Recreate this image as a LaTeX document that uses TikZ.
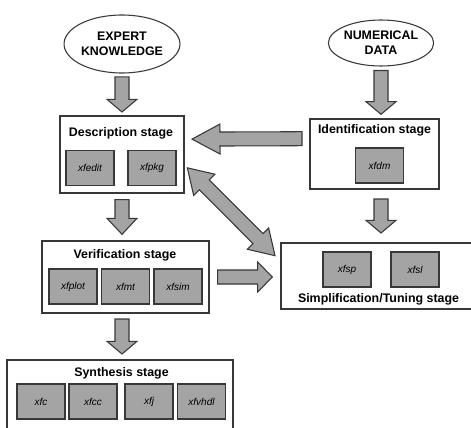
\documentclass[tikz,border=0pt]{standalone}
\usepackage{fontspec}
\setmainfont{Liberation Sans}
\usetikzlibrary{shapes.geometric,calc,positioning}

\definecolor{toolgray}{HTML}{A4A4A4}
\definecolor{edgegray}{HTML}{383838}

\tikzset{
  source/.style={ellipse,draw=edgegray,line width=0.8pt,fill=white,align=center,inner sep=0pt,
    font=\bfseries\fontsize{9.3}{11.2}\selectfont},
  stagebox/.style={draw=edgegray,line width=1pt,fill=white,inner sep=0pt},
  stagetitle/.style={inner sep=0pt,font=\bfseries\fontsize{9.3}{11}\selectfont},
  toolbox/.style={draw=edgegray,line width=1.1pt,fill=toolgray,minimum width=36pt,minimum height=26.5pt,
    inner sep=0pt,font=\itshape\fontsize{7.5}{9}\selectfont},
  bigarrow/.style={draw=edgegray,line width=0.8pt,fill=toolgray,line join=miter}
}

% 太い矢印: [先端長]{始点}{終点}{すき間}
\newcommand{\blockarrow}[4][9.5pt]{%
  \path ($(#2)!#4!(#3)$) coordinate (ba-s) ($(#3)!#4!(#2)$) coordinate (ba-e);
  \path ($(ba-e)!#1!(ba-s)$) coordinate (ba-h);
  \draw[bigarrow] ($(ba-s)!5.25pt!90:(ba-e)$) -- ($(ba-h)!5.25pt!90:(ba-e)$)
    -- ($(ba-h)!11.25pt!90:(ba-e)$) -- (ba-e) -- ($(ba-h)!11.25pt!-90:(ba-e)$)
    -- ($(ba-h)!5.25pt!-90:(ba-e)$) -- ($(ba-s)!5.25pt!-90:(ba-e)$) -- cycle;
}
% 両方向の太い矢印
\newcommand{\blockdarrow}[4][18pt]{%
  \path ($(#2)!#4!(#3)$) coordinate (ba-s) ($(#3)!#4!(#2)$) coordinate (ba-e);
  \path ($(ba-e)!#1!(ba-s)$) coordinate (ba-h) ($(ba-s)!#1!(ba-e)$) coordinate (ba-t);
  \draw[bigarrow] (ba-s) -- ($(ba-t)!11.25pt!90:(ba-e)$) -- ($(ba-t)!5.25pt!90:(ba-e)$)
    -- ($(ba-h)!5.25pt!90:(ba-e)$) -- ($(ba-h)!11.25pt!90:(ba-e)$) -- (ba-e)
    -- ($(ba-h)!11.25pt!-90:(ba-e)$) -- ($(ba-h)!5.25pt!-90:(ba-e)$)
    -- ($(ba-t)!5.25pt!-90:(ba-e)$) -- ($(ba-t)!11.25pt!-90:(ba-e)$) -- cycle;
}

\begin{document}
\begin{tikzpicture}[x=0.75pt,y=-0.75pt]

% 背景
\fill[white] (0,0) rectangle (471,428);
\useasboundingbox (0,0) rectangle (471,428);
\clip (0,0) rectangle (471,428);

% 入力
\node[source,minimum width=81.75pt,minimum height=43.5pt] (expert) at (122,44) {EXPERT\\KNOWLEDGE};
\node[source,minimum width=72.75pt,minimum height=34.5pt] (numerical) at (381,43) {NUMERICAL\\DATA};

% ステージ
\node[stagebox,minimum width=93pt,minimum height=57.75pt] (desc) at (122,154.5) {};
\node[stagebox,minimum width=96.75pt,minimum height=52.5pt] (ident) at (374.5,154) {};
\node[stagebox,minimum width=125.25pt,minimum height=54pt] (verif) at (125.5,277) {};
\node[stagebox,minimum width=148.5pt,minimum height=49.5pt] (simp) at (380,276) {};
\node[stagebox,minimum width=169.5pt,minimum height=57pt] (synth) at (120,398) {};

\node[stagetitle] (desct) at (121,133) {Description stage};
\node[stagetitle] (identt) at (374.5,130) {Identification stage};
\node[stagetitle] (verift) at (125,255) {Verification stage};
\node[stagetitle] (simpt) at (378.5,299) {Simplification/Tuning stage};
\node[stagetitle] (syntht) at (121.5,373) {Synthesis stage};

% ツール
\node[toolbox] (xfedit) at (90,168) {xfedit};
\node[toolbox] (xfpkg) at (152,168) {xfpkg};
\node[toolbox] (xfdm) at (379.5,165.5) {xfdm};
\node[toolbox] (xfplot) at (73,286.5) {xfplot};
\node[toolbox] (xfmt) at (125.5,286.5) {xfmt};
\node[toolbox] (xfsim) at (178,286.5) {xfsim};
\node[toolbox] (xfsp) at (347,269.5) {xfsp};
\node[toolbox] (xfsl) at (415,269.5) {xfsl};
\node[toolbox] (xfc) at (41,401.5) {xfc};
\node[toolbox] (xfcc) at (93,401.5) {xfcc};
\node[toolbox] (xfj) at (149,401.5) {xfj};
\node[toolbox] (xfvhdl) at (201.5,401.5) {xfvhdl};

% 矢印
\blockarrow{expert.south}{desc.north}{2.5pt}
\blockarrow{numerical.south}{numerical.south |- ident.north}{3pt}
\blockarrow[21pt]{[yshift=11.5pt]ident.west}{[yshift=11.5pt]desc.east}{5.5pt}
\blockarrow[12pt]{desc.south}{desc.south |- verif.north}{4.5pt}
\blockarrow{desc.south |- verif.south}{desc.south |- synth.north}{4pt}
\blockarrow{numerical.south |- ident.south}{numerical.south |- simp.north}{7pt}
\blockarrow[11pt]{verif.east}{verif.east -| simp.west}{6pt}
\blockdarrow{[xshift=2pt,yshift=-10pt]desc.east}{[xshift=-4pt,yshift=-10pt]simp.north west}{0pt}

\end{tikzpicture}
\end{document}
